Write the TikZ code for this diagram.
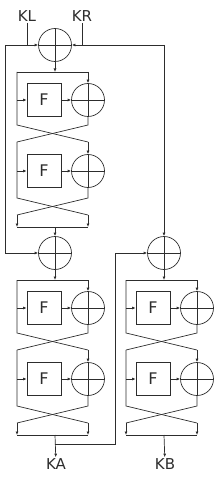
\documentclass[tikz,border=0pt]{standalone}
\usepackage{fontspec}
\setmainfont{DejaVu Sans}
\usetikzlibrary{arrows.meta}

\definecolor{wire}{RGB}{45,45,45}

\tikzset{
    sum/.style={draw, circle, minimum size=33pt, inner sep=0pt,
        path picture={\draw (path picture bounding box.north) -- (path picture bounding box.south)
            (path picture bounding box.west) -- (path picture bounding box.east);}},
    fbox/.style={draw, minimum width=34pt, minimum height=33pt, inner sep=0pt,
        font=\fontsize{16}{18}\selectfont},
    keylabel/.style={inner sep=1pt, font=\fontsize{15}{17}\selectfont}
}

\begin{document}
\begin{tikzpicture}[
    x=1pt, y=-1pt, line width=0.7pt, draw=wire, text=wire,
    >={Latex[length=3.5pt,width=3pt]} % Set default arrow tip style
]
    \useasboundingbox (0,0) rectangle (220,478);

    % Keys at the top and first XOR
    \node[keylabel] (kl) at (27,16) {KL};
    \node[keylabel] (kr) at (82,16) {KR};
    \node[sum] (xtop) at (55,45) {};
    \coordinate (ltop) at (5,45);
    \coordinate (rtop) at (164,45);
    \draw (kl) -- (kl |- xtop);
    \draw (kr) -- (kr |- xtop);
    \draw[->] (ltop) -- (xtop);
    \draw[->] (rtop) -- (xtop);

    % XORs between the blocks
    \node[sum] (xmid) at (55,253) {};
    \node[sum] (xright) at (164,253) {};
    \draw[->] (ltop) |- (xmid);
    \draw[->] (rtop) -- (xright);

    % Two Feistel rounds, drawn three times
    \foreach \b/\ox/\oy in {a/17/72, b/17/280, c/126/280} {
        \begin{scope}[shift={(\ox,\oy)}]
            \coordinate (\b-tl) at (0,0);
            \coordinate (\b-tr) at (71,0);
            \coordinate (\b-in) at (38,0);
            \node[fbox] (\b-f1) at (27,28) {F};
            \node[sum] (\b-x1) at (71,28) {};
            \node[fbox] (\b-f2) at (27,99) {F};
            \node[sum] (\b-x2) at (71,99) {};
            \coordinate (\b-c1l) at (0,53);
            \coordinate (\b-c1r) at (71,53);
            \coordinate (\b-c2l) at (0,70);
            \coordinate (\b-c2r) at (71,70);
            \coordinate (\b-c3l) at (0,126);
            \coordinate (\b-c3r) at (71,126);
            \coordinate (\b-c4l) at (0,143);
            \coordinate (\b-c4r) at (71,143);
            \coordinate (\b-bl) at (0,155);
            \coordinate (\b-br) at (71,155);
            \coordinate (\b-out) at (38,155);

            % first round
            \draw (\b-tl) -- (\b-tr);
            \draw[->] (\b-tr) -- (\b-x1);
            \draw (\b-tl) -- (\b-c1l) -- (\b-c2r);
            \draw[->] (\b-tl |- \b-f1) -- (\b-f1);
            \draw[->] (\b-f1) -- (\b-x1);
            \draw (\b-x1) -- (\b-c1r) -- (\b-c2l);

            % second round
            \draw[->] (\b-c2r) -- (\b-x2);
            \draw (\b-c2l) -- (\b-c3l) -- (\b-c4r);
            \draw[->] (\b-c2l |- \b-f2) -- (\b-f2);
            \draw[->] (\b-f2) -- (\b-x2);
            \draw (\b-x2) -- (\b-c3r) -- (\b-c4l);

            % output bar
            \draw[->] (\b-c4l) -- (\b-bl);
            \draw[->] (\b-c4r) -- (\b-br);
            \draw[line width=1pt] (\b-bl) -- (\b-br);
        \end{scope}
    }

    % Links into and out of the blocks
    \draw[->] (xtop) -- (a-in);
    \draw[->] (a-out) -- (xmid);
    \draw[->] (xmid) -- (b-in);
    \draw[->] (xright) -- (c-in);

    % Outputs
    \node[keylabel] (ka) at (56,464) {KA};
    \node[keylabel] (kb) at (165,464) {KB};
    \coordinate (split) at (55,444);
    \coordinate (kbend) at (115,444);
    \draw[->] (b-out) -- (ka);
    \draw[->] (c-out) -- (kb);
    \draw[->] (split) -- (kbend) |- (xright);

\end{tikzpicture}
\end{document}
